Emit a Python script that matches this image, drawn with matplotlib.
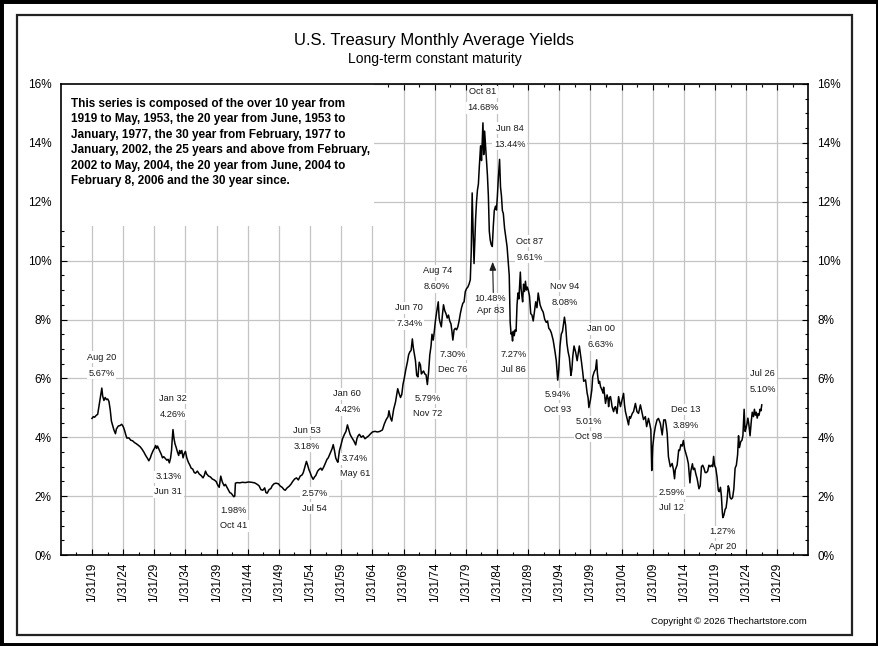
import matplotlib
matplotlib.use("Agg")
import matplotlib.pyplot as plt
from matplotlib.patches import Rectangle
from matplotlib.ticker import FixedLocator, MultipleLocator, FuncFormatter

plt.rcParams["font.family"] = ["Liberation Sans", "DejaVu Sans"]

# decimal year (month end) and yield in percent
dates = [
    1919.08, 1919.3, 1919.5, 1919.75, 1920.0, 1920.2, 1920.4, 1920.66, 1920.8, 1921.0,
    1921.2, 1921.4, 1921.6, 1921.8, 1922.0, 1922.2, 1922.4, 1922.6, 1922.85, 1923.0,
    1923.3, 1923.6, 1923.85, 1924.1, 1924.3, 1924.55, 1924.7, 1925.0, 1925.3, 1925.6,
    1925.9, 1926.2, 1926.5, 1926.8, 1927.1, 1927.4, 1927.7, 1928.0, 1928.2, 1928.45,
    1928.6, 1928.9, 1929.1, 1929.3, 1929.45, 1929.6, 1929.9, 1930.2, 1930.4, 1930.6,
    1930.9, 1931.1, 1931.3, 1931.5, 1931.7, 1931.85, 1931.95, 1932.08, 1932.25, 1932.4,
    1932.6, 1932.8, 1933.0, 1933.15, 1933.3, 1933.5, 1933.7, 1933.9, 1934.08, 1934.3,
    1934.55, 1934.8, 1935.0, 1935.25, 1935.5, 1935.7, 1936.0, 1936.3, 1936.6, 1936.9,
    1937.1, 1937.3, 1937.5, 1937.8, 1938.1, 1938.4, 1938.7, 1939.0, 1939.3, 1939.5,
    1939.75, 1940.0, 1940.3, 1940.5, 1940.8, 1941.0, 1941.2, 1941.4, 1941.6, 1941.83,
    1942.0, 1942.1, 1942.4, 1942.8, 1943.2, 1943.7, 1944.2, 1944.7, 1945.2, 1945.6,
    1945.9, 1946.2, 1946.5, 1946.8, 1947.0, 1947.2, 1947.5, 1947.8, 1948.0, 1948.3,
    1948.6, 1949.0, 1949.3, 1949.6, 1949.9, 1950.1, 1950.4, 1950.7, 1951.0, 1951.3,
    1951.6, 1951.9, 1952.2, 1952.5, 1952.8, 1953.0, 1953.2, 1953.5, 1953.7, 1953.9,
    1954.1, 1954.3, 1954.58, 1954.8, 1955.0, 1955.3, 1955.5, 1955.8, 1956.0, 1956.3,
    1956.5, 1956.8, 1957.0, 1957.3, 1957.6, 1957.8, 1958.0, 1958.2, 1958.4, 1958.55,
    1958.8, 1959.0, 1959.3, 1959.6, 1959.85, 1960.08, 1960.3, 1960.5, 1960.75, 1960.9,
    1961.1, 1961.41, 1961.6, 1961.8, 1962.0, 1962.3, 1962.6, 1962.9, 1963.2, 1963.5,
    1963.8, 1964.1, 1964.5, 1964.9, 1965.3, 1965.7, 1966.0, 1966.3, 1966.6, 1966.75,
    1967.0, 1967.2, 1967.5, 1967.8, 1968.0, 1968.15, 1968.35, 1968.6, 1968.8, 1969.0,
    1969.2, 1969.45, 1969.7, 1969.9, 1970.1, 1970.3, 1970.5, 1970.65, 1970.8, 1971.0,
    1971.2, 1971.4, 1971.6, 1971.8, 1971.95, 1972.1, 1972.3, 1972.5, 1972.7, 1972.91,
    1973.1, 1973.3, 1973.5, 1973.65, 1973.85, 1974.0, 1974.2, 1974.4, 1974.66, 1974.8,
    1974.95, 1975.15, 1975.3, 1975.5, 1975.7, 1975.9, 1976.1, 1976.3, 1976.5, 1976.7,
    1976.85, 1977.0, 1977.2, 1977.4, 1977.6, 1977.8, 1978.0, 1978.2, 1978.4, 1978.6,
    1978.8, 1979.0, 1979.2, 1979.4, 1979.6, 1979.8, 1979.95, 1980.1, 1980.25, 1980.4,
    1980.5, 1980.65, 1980.8, 1980.95, 1981.1, 1981.25, 1981.45, 1981.6, 1981.83, 1981.95,
    1982.1, 1982.25, 1982.4, 1982.55, 1982.7, 1982.85, 1983.0, 1983.15, 1983.33, 1983.5,
    1983.65, 1983.85, 1984.0, 1984.15, 1984.3, 1984.5, 1984.65, 1984.8, 1984.95, 1985.1,
    1985.3, 1985.5, 1985.7, 1985.9, 1986.05, 1986.2, 1986.35, 1986.45, 1986.58, 1986.7,
    1986.85, 1987.0, 1987.15, 1987.3, 1987.45, 1987.6, 1987.83, 1987.95, 1988.05, 1988.2,
    1988.35, 1988.5, 1988.65, 1988.8, 1988.95, 1989.1, 1989.3, 1989.5, 1989.7, 1989.9,
    1990.05, 1990.3, 1990.5, 1990.7, 1991.0, 1991.25, 1991.5, 1991.75, 1992.0, 1992.2,
    1992.4, 1992.6, 1992.8, 1993.1, 1993.4, 1993.6, 1993.83, 1994.0, 1994.2, 1994.4,
    1994.6, 1994.91, 1995.1, 1995.3, 1995.5, 1995.7, 1995.95, 1996.1, 1996.25, 1996.45,
    1996.7, 1996.95, 1997.15, 1997.3, 1997.5, 1997.65, 1997.85, 1998.0, 1998.3, 1998.55,
    1998.7, 1998.83, 1999.08, 1999.3, 1999.45, 1999.7, 1999.9, 2000.08, 2000.2, 2000.4,
    2000.55, 2000.7, 2000.95, 2001.1, 2001.2, 2001.35, 2001.5, 2001.75, 2001.9, 2002.0,
    2002.15, 2002.3, 2002.45, 2002.55, 2002.8, 2002.95, 2003.1, 2003.35, 2003.6, 2003.9,
    2004.15, 2004.4, 2004.55, 2004.7, 2004.96, 2005.2, 2005.35, 2005.5, 2005.8, 2006.0,
    2006.3, 2006.55, 2006.8, 2007.1, 2007.4, 2007.6, 2007.9, 2008.1, 2008.4, 2008.6,
    2008.78, 2008.92, 2009.08, 2009.3, 2009.5, 2009.77, 2010.0, 2010.3, 2010.6, 2010.85,
    2011.1, 2011.25, 2011.4, 2011.6, 2011.9, 2012.2, 2012.4, 2012.58, 2012.7, 2013.0,
    2013.25, 2013.4, 2013.6, 2013.8, 2014.0, 2014.2, 2014.4, 2014.6, 2014.8, 2015.05,
    2015.2, 2015.45, 2015.6, 2015.8, 2016.0, 2016.2, 2016.5, 2016.7, 2016.9, 2017.1,
    2017.3, 2017.5, 2017.7, 2017.9, 2018.1, 2018.3, 2018.5, 2018.7, 2018.85, 2019.0,
    2019.2, 2019.4, 2019.6, 2019.75, 2019.95, 2020.1, 2020.25, 2020.33, 2020.5, 2020.7,
    2020.85, 2021.0, 2021.2, 2021.35, 2021.5, 2021.7, 2021.9, 2022.1, 2022.3, 2022.5,
    2022.7, 2022.85, 2023.0, 2023.2, 2023.4, 2023.55, 2023.75, 2023.9, 2024.05, 2024.2,
    2024.35, 2024.5, 2024.7, 2024.9, 2025.05, 2025.25, 2025.4, 2025.55, 2025.7, 2025.85,
    2026.0, 2026.15, 2026.3, 2026.45, 2026.58,
]
yields = [
    4.64, 4.70, 4.68, 4.74, 4.78, 5.05, 5.30, 5.67, 5.40, 5.25,
    5.35, 5.28, 5.30, 5.22, 4.95, 4.55, 4.40, 4.25, 4.12, 4.28,
    4.38, 4.40, 4.44, 4.36, 4.24, 4.05, 3.97, 3.98, 3.90, 3.88,
    3.82, 3.78, 3.73, 3.68, 3.60, 3.50, 3.38, 3.28, 3.20, 3.30,
    3.40, 3.55, 3.62, 3.72, 3.62, 3.70, 3.56, 3.42, 3.30, 3.34,
    3.27, 3.22, 3.25, 3.13, 3.30, 3.55, 3.90, 4.26, 3.95, 3.78,
    3.65, 3.50, 3.38, 3.55, 3.45, 3.55, 3.30, 3.45, 3.52, 3.30,
    3.15, 3.05, 2.95, 2.92, 2.80, 2.78, 2.85, 2.75, 2.70, 2.62,
    2.70, 2.85, 2.75, 2.68, 2.65, 2.58, 2.55, 2.50, 2.36, 2.30,
    2.68, 2.48, 2.35, 2.40, 2.28, 2.20, 2.12, 2.10, 2.05, 1.98,
    2.00, 2.44, 2.46, 2.45, 2.47, 2.46, 2.48, 2.47, 2.45, 2.40,
    2.35, 2.22, 2.20, 2.28, 2.12, 2.10, 2.22, 2.26, 2.35, 2.42,
    2.44, 2.42, 2.34, 2.30, 2.22, 2.20, 2.28, 2.33, 2.40, 2.50,
    2.58, 2.62, 2.55, 2.68, 2.72, 2.80, 2.95, 3.18, 3.05, 2.90,
    2.80, 2.68, 2.57, 2.65, 2.70, 2.85, 2.90, 2.95, 2.88, 3.00,
    3.10, 3.25, 3.30, 3.45, 3.60, 3.75, 3.55, 3.30, 3.20, 3.15,
    3.55, 3.70, 3.95, 4.10, 4.20, 4.42, 4.25, 4.10, 4.00, 3.95,
    3.88, 3.74, 3.95, 4.05, 4.10, 4.00, 4.05, 3.95, 4.00, 4.05,
    4.12, 4.18, 4.20, 4.18, 4.20, 4.25, 4.45, 4.60, 4.70, 4.90,
    4.65, 4.55, 4.95, 5.20, 5.45, 5.65, 5.50, 5.35, 5.45, 5.80,
    6.00, 6.30, 6.55, 6.80, 6.90, 6.95, 7.34, 7.05, 6.85, 6.60,
    6.10, 6.05, 6.55, 6.45, 6.15, 6.20, 6.25, 6.15, 6.12, 5.79,
    6.20, 6.80, 7.10, 7.50, 7.30, 7.55, 7.95, 8.25, 8.60, 8.05,
    7.90, 7.75, 8.10, 8.50, 8.30, 8.20, 8.05, 8.15, 7.95, 7.85,
    7.60, 7.30, 7.65, 7.70, 7.65, 7.75, 7.95, 8.20, 8.40, 8.55,
    8.60, 8.95, 9.05, 9.10, 9.20, 9.35, 10.30, 12.30, 11.00, 9.90,
    10.50, 11.40, 12.00, 12.40, 12.60, 13.20, 13.90, 13.40, 14.68, 13.60,
    14.40, 13.90, 13.40, 12.90, 12.20, 11.00, 10.70, 10.55, 10.48, 11.20,
    11.70, 11.85, 11.72, 12.20, 12.80, 13.44, 12.50, 12.20, 11.70, 11.60,
    11.10, 10.80, 10.48, 9.90, 9.50, 7.90, 7.50, 7.55, 7.27, 7.60,
    7.45, 7.65, 7.60, 8.50, 8.90, 8.70, 9.61, 9.05, 8.85, 8.60,
    9.20, 8.95, 9.30, 9.00, 9.10, 9.00, 8.80, 8.20, 8.15, 7.95,
    8.20, 8.60, 8.40, 8.90, 8.50, 8.35, 8.25, 8.00, 7.90, 7.95,
    7.70, 7.65, 7.55, 7.30, 6.90, 6.60, 5.94, 6.30, 7.10, 7.50,
    7.60, 8.08, 7.80, 7.20, 6.90, 6.70, 6.10, 6.30, 6.75, 7.10,
    6.90, 6.60, 6.90, 7.10, 6.80, 6.55, 6.20, 5.90, 5.95, 5.50,
    5.35, 5.01, 5.27, 5.60, 6.06, 6.23, 6.30, 6.63, 6.17, 5.83,
    5.90, 5.72, 5.60, 5.50, 5.70, 5.45, 5.15, 5.44, 5.30, 5.04,
    5.35, 5.38, 5.20, 5.04, 4.87, 5.00, 5.04, 4.81, 5.38, 5.04,
    5.27, 5.49, 5.10, 4.87, 4.64, 4.42, 4.70, 4.64, 4.81, 4.87,
    5.15, 4.87, 4.81, 5.10, 4.81, 4.60, 4.70, 4.36, 4.64, 4.45,
    4.25, 2.87, 3.68, 4.10, 4.36, 4.59, 4.64, 4.47, 4.08, 4.59,
    4.59, 4.40, 4.13, 3.34, 3.00, 3.11, 2.90, 2.59, 2.89, 3.06,
    3.57, 3.55, 3.75, 3.70, 3.89, 3.60, 3.45, 3.30, 3.10, 2.45,
    2.85, 3.10, 2.90, 2.95, 2.75, 2.60, 2.25, 2.35, 3.00, 3.05,
    2.95, 2.80, 2.80, 2.85, 3.05, 3.00, 3.05, 3.00, 3.35, 3.05,
    2.95, 2.65, 2.20, 2.15, 2.30, 2.00, 1.45, 1.27, 1.35, 1.55,
    1.60, 1.85, 2.35, 2.25, 1.95, 1.90, 1.95, 2.25, 2.95, 3.05,
    3.40, 4.05, 3.65, 3.85, 3.90, 4.05, 4.95, 4.20, 4.30, 4.45,
    4.65, 4.45, 4.05, 4.55, 4.85, 4.70, 4.95, 4.75, 4.85, 4.65,
    4.80, 4.75, 4.95, 4.90, 5.10,
]
assert len(dates) == len(yields)

# highs and lows that carry a label
note_names = ["Aug 20", "Jan 32", "Jun 31", "Oct 41", "Jun 53", "Jul 54", "Jan 60",
              "May 61", "Jun 70", "Nov 72", "Aug 74", "Dec 76", "Oct 81", "Jun 84",
              "Jul 86", "Oct 87", "Oct 93", "Nov 94", "Oct 98", "Jan 00", "Jul 12",
              "Dec 13", "Apr 20", "Jul 26"]
note_dates = [1920.66, 1932.08, 1931.5, 1941.83, 1953.5, 1954.58, 1960.08,
              1961.41, 1970.5, 1972.91, 1974.66, 1977.0, 1981.83, 1984.5,
              1986.58, 1987.83, 1993.83, 1994.91, 1998.83, 2000.08, 2012.58,
              2014.0, 2020.33, 2026.58]
note_high = [True, True, False, False, True, False, True,
             False, True, False, True, False, True, True,
             False, True, False, True, False, True, False,
             True, False, True]
arrow_name = "Apr 83"
arrow_date = 1983.33

# label offsets in pixels (dx)
note_dx = [0, 0, -1, 0, 0, 1, 0, -1, -3, 0, -1, 0, 0, 10,
           1, 9, 0, 0, 0, 4, -3, 2, 0, 1]

series = dict(zip(dates, yields))

fig = plt.figure(figsize=(8.79, 6.46), dpi=100)
W, H = 879.0, 646.0

# frames
fig.patches.append(Rectangle((0, 0), 1, 1, transform=fig.transFigure,
                             fill=False, edgecolor="black", linewidth=5))
fig.patches.append(Rectangle((17 / W, 1 - 635 / H), (852 - 17) / W, (635 - 15) / H,
                             transform=fig.transFigure, fill=False,
                             edgecolor="#222222", linewidth=1.6))

ax = fig.add_axes([61 / W, 1 - 555 / H, 747 / W, 471 / H])
ax.plot(dates, yields, color="black", linewidth=1.1, zorder=3)

ax.set_xlim(1914.11, 2034.0)
ax.set_ylim(0, 16)

major_x = [y + 30 / 365 for y in range(1919, 2030, 5)]
minor_x = [y + 2.5 + 30 / 365 for y in range(1914, 2032, 5)]
ax.xaxis.set_major_locator(FixedLocator(major_x))
ax.xaxis.set_minor_locator(FixedLocator(minor_x))
ax.set_xticklabels([f"1/31/{y % 100:02d}" for y in range(1919, 2030, 5)], rotation=90)
ax.yaxis.set_major_locator(MultipleLocator(2))
ax.yaxis.set_minor_locator(MultipleLocator(0.5))
ax.yaxis.set_major_formatter(FuncFormatter(lambda v, p: f"{int(v)}%"))

ax.tick_params(axis="both", which="both", direction="in", top=True, right=True,
               labelright=True, labelsize=8.5, width=0.8, color="black")
ax.tick_params(axis="both", which="major", length=4)
ax.tick_params(axis="both", which="minor", length=2.5)
ax.tick_params(axis="y", pad=6.8)
ax.tick_params(axis="x", pad=5.5)

ax.set_axisbelow(True)
ax.grid(True, which="major", color="#c4c4c4", linewidth=0.9)
for s in ax.spines.values():
    s.set_linewidth(1.2)
    s.set_color("black")

# white area behind the note in the top left
ax.add_patch(Rectangle((0, (555 - 226) / 471), (374 - 61) / 747, 1 - (555 - 226) / 471,
                       transform=ax.transAxes, facecolor="white", edgecolor="none",
                       zorder=1))
note = ("This series is composed of the over 10 year from\n"
        "1919 to May, 1953, the 20 year from June, 1953 to\n"
        "January, 1977, the 30 year from February, 1977 to\n"
        "January, 2002, the 25 years and above from February,\n"
        "2002 to May, 2004, the 20 year from June, 2004 to\n"
        "February 8, 2006 and the 30 year since.")
ax.text(10 / 747, (555 - 98) / 471, note, transform=ax.transAxes, ha="left", va="top",
        fontsize=8.5, fontweight="bold", linespacing=1.38, zorder=2)

box = dict(facecolor="white", edgecolor="none", pad=1.0)
for name, d, high, dx in zip(note_names, note_dates, note_high, note_dx):
    v = series[d]
    if high:
        lines = [(name, 31), (f"{v:.2f}%", 15)]
    else:
        lines = [(f"{v:.2f}%", -14), (name, -29)]
    for txt, dy in lines:
        ax.annotate(txt, xy=(d, v), xytext=(dx, dy), textcoords="offset pixels",
                    ha="center", va="center", fontsize=6.7, color="#1a1a1a",
                    bbox=box, zorder=4)

# the 1983 low is marked with an arrow from below
va = series[arrow_date]
ax.annotate("", xy=(arrow_date, va), xytext=(1, -46), textcoords="offset pixels",
            arrowprops=dict(arrowstyle="-|>,head_length=0.5,head_width=0.2",
                            color="#1a1a1a", linewidth=0.8, shrinkA=0, shrinkB=11),
            zorder=4)
ax.annotate(f"{va:.2f}%", xy=(arrow_date, va), xytext=(-2, -52),
            textcoords="offset pixels", ha="center", va="center", fontsize=6.7,
            color="#1a1a1a", bbox=box, zorder=4)
ax.annotate(arrow_name, xy=(arrow_date, va), xytext=(-2, -64),
            textcoords="offset pixels", ha="center", va="center", fontsize=6.7,
            color="#1a1a1a", zorder=4)

fig.text(434.5 / W, 1 - 41 / H, "U.S. Treasury Monthly Average Yields",
         ha="center", va="center", fontsize=12)
fig.text(434.5 / W, 1 - 59.5 / H, "Long-term constant maturity",
         ha="center", va="center", fontsize=10)
fig.text(807 / W, 1 - 621 / H, "Copyright \u00a9 2026 Thechartstore.com",
         ha="right", va="center", fontsize=6.8)

fig.savefig("out.png", dpi=100)
plt.close("all")
